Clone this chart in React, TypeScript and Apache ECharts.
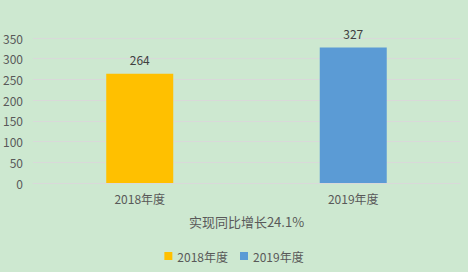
import React, { useEffect, useRef } from "react";
import * as echarts from "echarts";

const categories = ["2018年度", "2019年度"];
const seriesNames = ["2018年度", "2019年度"];
const values2018 = [264, "-"];
const values2019 = ["-", 327];
const axisName = "实现同比增长24.1%";

const FONT = "'Noto Sans CJK SC', 'Noto Sans', sans-serif";

export default function App() {
  const ref = useRef<HTMLDivElement>(null);
  useEffect(() => {
    document.body.style.margin = "0";
    const chart = echarts.init(ref.current!, undefined, { renderer: "svg" });
    chart.setOption({
      animation: false,
      backgroundColor: "#cde8d0",
      textStyle: { fontFamily: FONT },
      grid: { left: 32, right: 8, top: 38, bottom: 89, containLabel: false },
      legend: {
        data: seriesNames,
        bottom: 5,
        left: "center",
        icon: "rect",
        itemWidth: 8,
        itemHeight: 8,
        itemGap: 12,
        textStyle: { color: "#595959", fontSize: 12, fontFamily: FONT },
      },
      xAxis: {
        type: "category",
        data: categories,
        axisLine: { lineStyle: { color: "#d9d9d9" } },
        axisTick: { show: false },
        axisLabel: { color: "#595959", fontSize: 12, margin: 9, fontFamily: FONT },
        name: axisName,
        nameLocation: "middle",
        nameGap: 32,
        nameTextStyle: { color: "#595959", fontSize: 13, fontFamily: FONT },
      },
      yAxis: {
        type: "value",
        min: 0,
        max: 350,
        interval: 50,
        axisLine: { show: false },
        axisTick: { show: false },
        axisLabel: { color: "#595959", fontSize: 12, margin: 10, fontFamily: FONT },
        splitLine: { lineStyle: { color: "#d9d9d9", width: 1 } },
      },
      series: [
        {
          name: seriesNames[0],
          type: "bar",
          stack: "total",
          data: values2018,
          barWidth: 67,
          itemStyle: { color: "#ffc000" },
          label: { show: true, position: "top", distance: 8, color: "#404040", fontSize: 12, fontFamily: FONT },
        },
        {
          name: seriesNames[1],
          type: "bar",
          stack: "total",
          data: values2019,
          barWidth: 67,
          itemStyle: { color: "#5b9bd5" },
          label: { show: true, position: "top", distance: 8, color: "#404040", fontSize: 12, fontFamily: FONT },
        },
      ],
    });
    return () => chart.dispose();
  }, []);
  return <div ref={ref} style={{ width: 468, height: 272 }} />;
}
